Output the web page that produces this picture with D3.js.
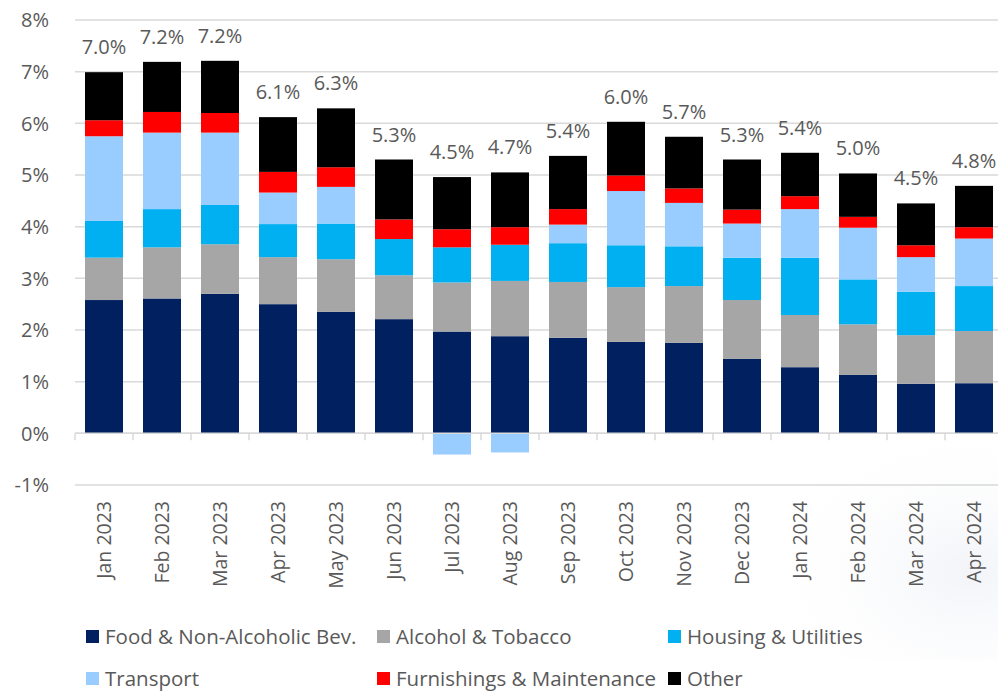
<!DOCTYPE html>
<html>
<head>
<meta charset="utf-8">
<script src="https://cdn.jsdelivr.net/npm/d3@7"></script>
<style>
  html, body { margin: 0; padding: 0; background: #ffffff; }
  svg { display: block; }
  text { font-family: "Open Sans", sans-serif; fill: #595959; }
</style>
</head>
<body>
<svg id="chart" width="998" height="691"></svg>
<script>
const months = ["Jan 2023","Feb 2023","Mar 2023","Apr 2023","May 2023","Jun 2023","Jul 2023","Aug 2023","Sep 2023","Oct 2023","Nov 2023","Dec 2023","Jan 2024","Feb 2024","Mar 2024","Apr 2024"];
const seriesNames = ["Food & Non-Alcoholic Bev.","Alcohol & Tobacco","Housing & Utilities","Transport","Furnishings & Maintenance","Other"];
const food        = [2.58,2.61,2.70,2.50,2.35,2.21,1.97,1.88,1.85,1.77,1.75,1.44,1.28,1.13,0.96,0.97];
const alcohol     = [0.82,0.99,0.96,0.91,1.02,0.85,0.95,1.07,1.08,1.06,1.10,1.14,1.01,0.98,0.94,1.01];
const housing     = [0.71,0.74,0.76,0.64,0.69,0.70,0.68,0.70,0.75,0.81,0.77,0.82,1.11,0.87,0.84,0.87];
const transport   = [1.64,1.48,1.40,0.61,0.71,0.00,-0.41,-0.37,0.36,1.05,0.84,0.66,0.94,1.00,0.67,0.92];
const furnishings = [0.31,0.40,0.38,0.40,0.38,0.38,0.35,0.34,0.30,0.30,0.28,0.27,0.25,0.21,0.23,0.22];
const other       = [0.93,0.97,1.01,1.06,1.14,1.16,1.01,1.06,1.03,1.04,1.00,0.97,0.84,0.84,0.81,0.80];
const totalLabels = ["7.0%","7.2%","7.2%","6.1%","6.3%","5.3%","4.5%","4.7%","5.4%","6.0%","5.7%","5.3%","5.4%","5.0%","4.5%","4.8%"];
const yTicks = [-1,0,1,2,3,4,5,6,7,8];
const colors = ["#002060","#a6a6a6","#00b0f0","#99ccff","#ff0000","#000000"];

const seriesValues = [food, alcohol, housing, transport, furnishings, other];
const keys = seriesNames;
const rows = months.map((m, i) => {
  const r = { month: m };
  keys.forEach((k, j) => r[k] = seriesValues[j][i]);
  return r;
});

const svg = d3.select("#chart");

// faint background tint (lower right)
const defs = svg.append("defs");
const grad = defs.append("radialGradient").attr("id","bgTint")
  .attr("cx","0.9").attr("cy","0.6").attr("r","0.7");
grad.append("stop").attr("offset","0%").attr("stop-color","#f2f4f8");
grad.append("stop").attr("offset","100%").attr("stop-color","#ffffff").attr("stop-opacity",0);
svg.append("rect").attr("x",700).attr("y",440).attr("width",298).attr("height",220).attr("fill","url(#bgTint)");

const x = d3.scaleBand().domain(months).range([75, 75 + 16 * 58]).paddingInner(0.345).paddingOuter(0.1725);
const y = d3.scaleLinear().domain([-1, 8]).range([485, 20]);

// gridlines
svg.append("g").selectAll("line").data(yTicks).join("line")
  .attr("x1", 75).attr("x2", 998)
  .attr("y1", d => y(d)).attr("y2", d => y(d))
  .attr("stroke", "#d9d9d9").attr("stroke-width", 1.5);

// y tick labels
svg.append("g").selectAll("text").data(yTicks).join("text")
  .attr("x", 49).attr("y", d => y(d)).attr("dy", "0.36em")
  .attr("text-anchor", "end").attr("font-size", 20)
  .text(d => d + "%");

// stacked bars
const stack = d3.stack().keys(keys).offset(d3.stackOffsetDiverging);
const stacked = stack(rows);
svg.append("g").selectAll("g").data(stacked).join("g")
  .attr("fill", (d, i) => colors[i])
  .selectAll("rect").data(d => d).join("rect")
  .attr("x", d => x(d.data.month))
  .attr("width", x.bandwidth())
  .attr("y", d => y(Math.max(d[0], d[1])))
  .attr("height", d => Math.abs(y(d[0]) - y(d[1])));

// zero axis line with category tick marks
svg.append("line").attr("x1", 75).attr("x2", 998).attr("y1", y(0)).attr("y2", y(0))
  .attr("stroke", "#d9d9d9").attr("stroke-width", 1.5);
const boundaries = d3.range(months.length + 1).map(i => 75 + i * x.step());
svg.append("g").selectAll("line").data(boundaries).join("line")
  .attr("x1", d => d).attr("x2", d => d)
  .attr("y1", y(0)).attr("y2", y(0) + 7)
  .attr("stroke", "#d9d9d9").attr("stroke-width", 1.5);

// total labels
const posTop = rows.map(r => keys.reduce((s, k) => s + Math.max(0, r[k]), 0));
svg.append("g").selectAll("text").data(months).join("text")
  .attr("x", d => x(d) + x.bandwidth() / 2)
  .attr("y", (d, i) => y(posTop[i]) - 18)
  .attr("text-anchor", "middle").attr("font-size", 20)
  .text((d, i) => totalLabels[i]);

// x labels (rotated)
svg.append("g").selectAll("text").data(months).join("text")
  .attr("transform", d => `translate(${x(d) + x.bandwidth() / 2},501) rotate(-90)`)
  .attr("text-anchor", "end").attr("dy", "0.36em").attr("font-size", 19.5)
  .text(d => d);

// legend
const legendPos = [[86,637],[377,637],[668,637],[86,679],[377,679],[668,679]];
const lg = svg.append("g").selectAll("g").data(seriesNames).join("g")
  .attr("transform", (d, i) => `translate(${legendPos[i][0]},${legendPos[i][1]})`);
lg.append("rect").attr("x", 0).attr("y", -7).attr("width", 13).attr("height", 13)
  .attr("fill", (d, i) => colors[i]);
lg.append("text").attr("x", 19).attr("y", 0).attr("dy", "0.36em").attr("font-size", 20.5)
  .text(d => d);
</script>
</body>
</html>
